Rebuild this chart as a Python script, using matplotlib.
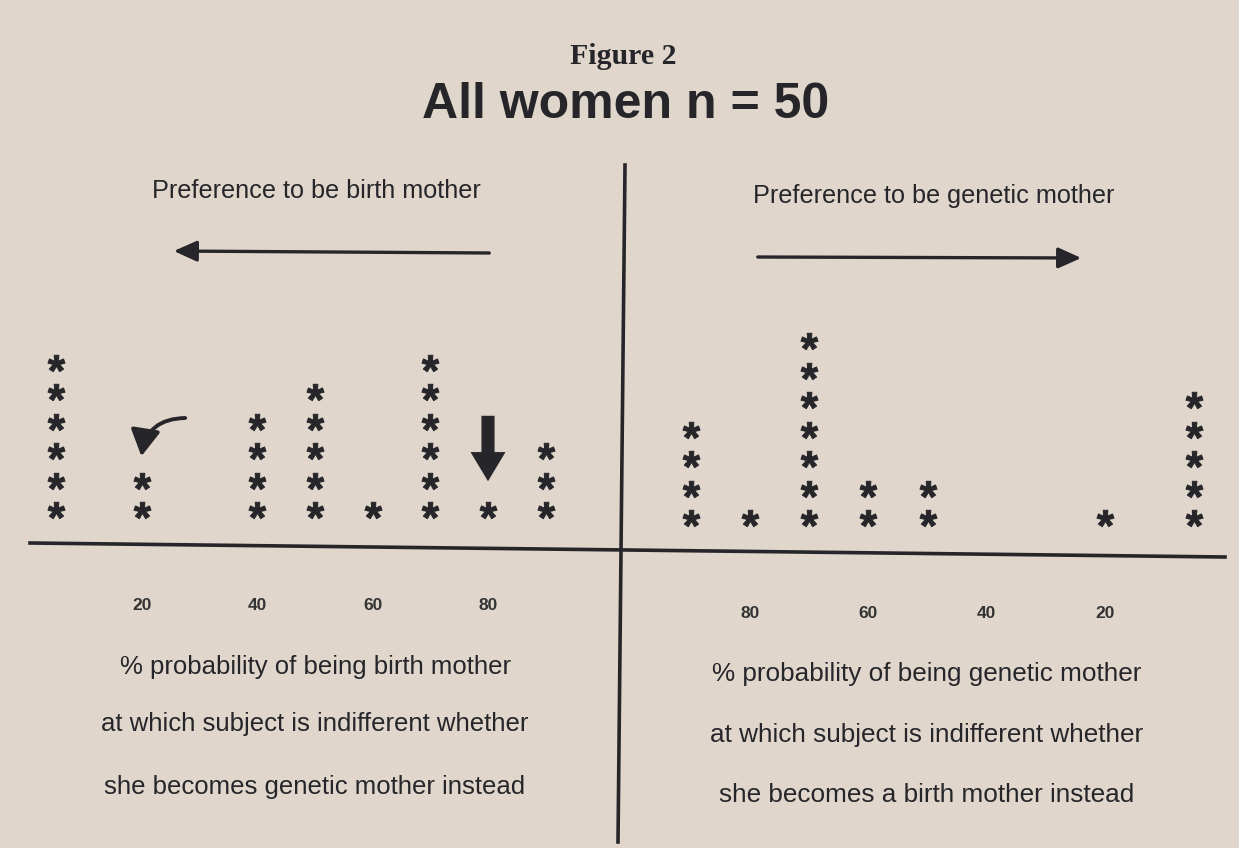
import matplotlib
matplotlib.use("Agg")
import matplotlib.pyplot as plt
from matplotlib.lines import Line2D
from matplotlib.textpath import TextPath
from matplotlib.font_manager import FontProperties
from matplotlib.path import Path
import numpy as np

# ---- data ----
left_pct = [5, 20, 40, 50, 60, 70, 80, 90]      # % probability of being birth mother
left_counts = [6, 2, 4, 5, 1, 6, 1, 3]
right_pct = [90, 80, 70, 60, 50, 20, 5]         # % probability of being genetic mother
right_counts = [4, 1, 7, 2, 2, 1, 5]
tick_vals = [20, 40, 60, 80]

W, H = 1239, 848
BG = "#e0d6cc"
INK = "#26262a"
fig = plt.figure(figsize=(W / 100, H / 100), dpi=100, facecolor=BG)

# asterisk marker built from the bold glyph, centred on its own bbox
tp = TextPath((0, 0), "*", prop=FontProperties(family="Liberation Sans", weight="bold"), size=10)
v = tp.vertices.copy()
codes = tp.codes
real = codes != Path.CLOSEPOLY
c = (v[real].min(axis=0) + v[real].max(axis=0)) / 2
v[~real] = c
star = Path(v - c, codes)

def px_axes(x0, x1, y_bottom, y_top):
    return fig.add_axes([x0 / W, (H - y_bottom) / H, (x1 - x0) / W, (y_bottom - y_top) / H])

# left panel: x 0..100 maps to px 26.7..603.3 ; y 0..10 maps to px 539.5..244.5
axL = px_axes(26.7, 603.3, 539.5, 244.5)
axL.set_xlim(0, 100)
# right panel: x 100..0 maps to px 631.7..1223.3 (reversed)
axR = px_axes(631.7, 1223.3, 547.5, 252.5)
axR.set_xlim(100, 0)

for ax, pcts, counts in ((axL, left_pct, left_counts), (axR, right_pct, right_counts)):
    ax.set_ylim(0, 10)
    ax.patch.set_alpha(0)
    for s in ax.spines.values():
        s.set_visible(False)
    ax.set_yticks([])
    xs, ys = [], []
    for p, n in zip(pcts, counts):
        for k in range(1, n + 1):
            xs.append(p)
            ys.append(k)
    ax.scatter(xs, ys, marker=star, s=150, linewidths=0.7, edgecolors=INK, color=INK, zorder=3)
    ax.set_xticks(tick_vals)
    ax.set_xticklabels([str(t) for t in tick_vals], fontsize=12.5, color="#333333",
                       family="Liberation Sans", fontweight="bold")
    ax.tick_params(axis="x", length=0, pad=42)

# axes lines (slightly tilted as in the photo)
fig.add_artist(Line2D([30 / W, 1225 / W], [(H - 543) / H, (H - 557) / H],
                      color=INK, lw=2.6, transform=fig.transFigure))
fig.add_artist(Line2D([625 / W, 618 / W], [(H - 165) / H, (H - 842) / H],
                      color=INK, lw=2.6, transform=fig.transFigure))

def ftext(x, y, s, **kw):
    fig.text(x / W, (H - y) / H, s, ha="center", va="center", color=INK, **kw)

ftext(623, 56, "Figure 2", family="Liberation Serif", fontweight="bold", fontsize=21.5)
ftext(626, 105, "All women n = 50", family="Liberation Sans", fontweight="bold", fontsize=36)
ftext(316, 191, "Preference to be birth mother", family="Liberation Sans", fontsize=18.2)
ftext(934, 196, "Preference to be genetic mother", family="Liberation Sans", fontsize=18.2)

left_lines = ["% probability of being birth mother",
              "at which subject is indifferent whether",
              "she becomes genetic mother instead"]
right_lines = ["% probability of being genetic mother",
               "at which subject is indifferent whether",
               "she becomes a birth mother instead"]
for s, y in zip(left_lines, [667, 724, 787]):
    ftext(315, y, s, family="Liberation Sans", fontsize=18.5)
for s, y in zip(right_lines, [674, 735, 795]):
    ftext(927, y, s, family="Liberation Sans", fontsize=18.8)

def arrow(x0, y0, x1, y1, **props):
    fig.add_artist(matplotlib.patches.FancyArrowPatch(
        (x0 / W, (H - y0) / H), (x1 / W, (H - y1) / H),
        transform=fig.transFigure, color=INK, **props))

arrow(492, 253, 171, 251, arrowstyle="-|>,head_length=1.0,head_width=0.45", lw=2.4, mutation_scale=14)
arrow(755, 257, 1084, 258, arrowstyle="-|>,head_length=1.0,head_width=0.45", lw=2.4, mutation_scale=14)
arrow(488, 413, 488, 484, arrowstyle="simple,head_length=1.0,head_width=1.2,tail_width=0.45",
      lw=0, mutation_scale=21)
arrow(188, 418, 141, 459, arrowstyle="-|>,head_length=0.8,head_width=0.45", lw=2.8,
      mutation_scale=20, connectionstyle="arc3,rad=0.45")

fig.savefig("out.png", dpi=100, facecolor=BG)
